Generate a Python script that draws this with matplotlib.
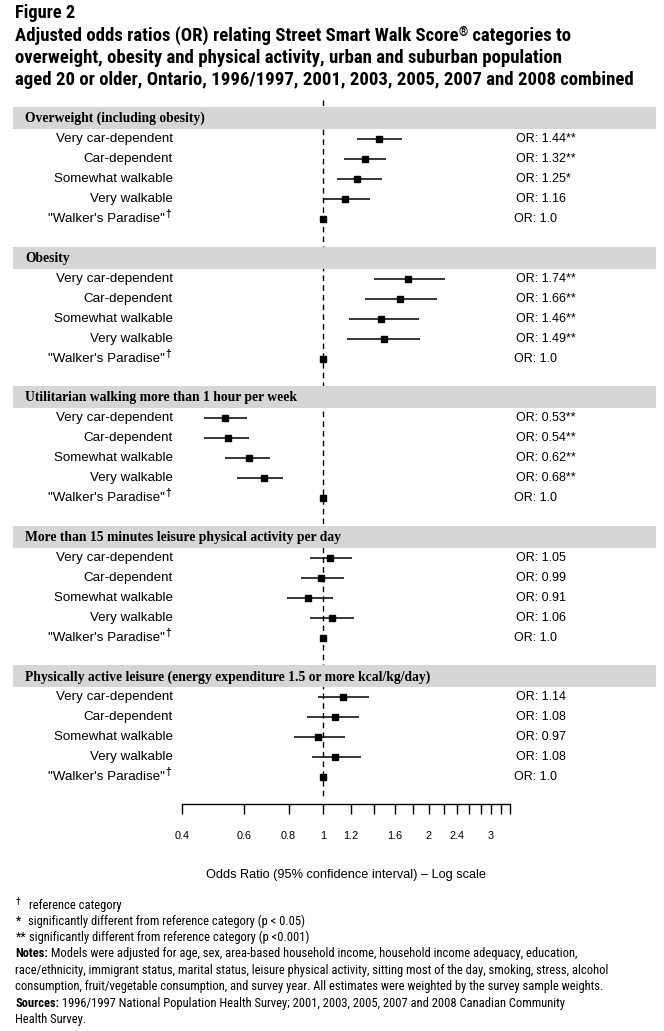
import matplotlib
matplotlib.use("Agg")
import matplotlib.pyplot as plt
from matplotlib import font_manager as fm
from matplotlib.patches import Rectangle
import numpy as np

# ---------------- data ----------------
categories = ["Very car-dependent", "Car-dependent", "Somewhat walkable",
              "Very walkable", "\"Walker's Paradise\""]
outcomes = ["Overweight (including obesity)",
            "Obesity",
            "Utilitarian walking more than 1 hour per week",
            "More than 15 minutes leisure physical activity per day",
            "Physically active leisure (energy expenditure 1.5 or more kcal/kg/day)"]

overweight_or = [1.44, 1.32, 1.25, 1.16, 1.0]
overweight_lo = [1.25, 1.15, 1.10, 1.00, 1.0]
overweight_hi = [1.68, 1.51, 1.47, 1.36, 1.0]
overweight_sig = ["**", "**", "*", "", ""]

obesity_or = [1.74, 1.66, 1.46, 1.49, 1.0]
obesity_lo = [1.40, 1.32, 1.19, 1.17, 1.0]
obesity_hi = [2.22, 2.11, 1.88, 1.89, 1.0]
obesity_sig = ["**", "**", "**", "**", ""]

walking_or = [0.53, 0.54, 0.62, 0.68, 1.0]
walking_lo = [0.46, 0.46, 0.53, 0.57, 1.0]
walking_hi = [0.61, 0.62, 0.71, 0.77, 1.0]
walking_sig = ["**", "**", "**", "**", ""]

leisure15_or = [1.05, 0.99, 0.91, 1.06, 1.0]
leisure15_lo = [0.92, 0.87, 0.79, 0.92, 1.0]
leisure15_hi = [1.21, 1.15, 1.07, 1.23, 1.0]
leisure15_sig = ["", "", "", "", ""]

active_or = [1.14, 1.08, 0.97, 1.08, 1.0]
active_lo = [0.97, 0.90, 0.83, 0.93, 1.0]
active_hi = [1.35, 1.27, 1.16, 1.28, 1.0]
active_sig = ["", "", "", "", ""]

tick_values = [0.4, 0.6, 0.8, 1.0, 1.2, 1.4, 1.6, 1.8, 2.0, 2.2, 2.4, 2.6, 2.8, 3.0, 3.2, 3.4]
tick_labels = ["0.4", "0.6", "0.8", "1", "1.2", "", "1.6", "", "2", "", "2.4", "", "", "3", "", ""]

panels = [
    (overweight_or, overweight_lo, overweight_hi, overweight_sig),
    (obesity_or, obesity_lo, obesity_hi, obesity_sig),
    (walking_or, walking_lo, walking_hi, walking_sig),
    (leisure15_or, leisure15_lo, leisure15_hi, leisure15_sig),
    (active_or, active_lo, active_hi, active_sig),
]

# ---------------- fonts ----------------
installed = {f.name for f in fm.fontManager.ttflist}
def pick(*names):
    for n in names:
        if n in installed:
            return n
    return "DejaVu Sans"
NARROW = pick("Liberation Sans Narrow", "Arial Narrow", "Roboto Condensed", "Liberation Sans")
SANS = pick("Liberation Sans", "Arial", "DejaVu Sans")
SERIF = pick("Liberation Serif", "DejaVu Serif")

W, H = 664, 1031
DPI = 100
fig = plt.figure(figsize=(W / DPI, H / DPI), dpi=DPI)
fig.patch.set_facecolor("white")

# forest axes: x log-scale OR, y in pixel rows
x_left_px, x_right_px = 182.3, 510.3
y_top_px, y_axis_px = 100.0, 804.0
ax = fig.add_axes([x_left_px / W, 1 - y_axis_px / H,
                   (x_right_px - x_left_px) / W, (y_axis_px - y_top_px) / H])
ax.set_facecolor("none")
ax.set_xscale("log")
ax.set_xlim(tick_values[0], tick_values[-1])
ax.set_ylim(y_axis_px, y_top_px)
for s in ["top", "left", "right"]:
    ax.spines[s].set_visible(False)
ax.spines["bottom"].set_linewidth(1.0)
ax.set_yticks([])
ax.xaxis.set_minor_locator(matplotlib.ticker.NullLocator())
ax.set_xticks(tick_values)
ax.set_xticklabels(tick_labels, fontfamily=SANS, fontsize=7.8)
ax.tick_params(axis="x", direction="out", length=7.5, width=1.0, pad=12)
ax.set_xlabel("Odds Ratio (95% confidence interval) \u2013 Log scale",
              fontfamily=SANS, fontsize=9.2, labelpad=20)

ax.plot([1, 1], [y_top_px, 800], color="black", lw=1.0, ls=(0, (4, 3)), zorder=1)

# overlay axes in pixel coords
ov = fig.add_axes([0, 0, 1, 1])
ov.set_xlim(0, W)
ov.set_ylim(H, 0)
ov.axis("off")
ov.set_facecolor("none")

panel_step = 139.6
first_top = 107.0
renderer = fig.canvas.get_renderer()

def runs(x, y, parts, va="baseline"):
    for s, kw, dy in parts:
        t = ov.text(x, y + dy, s, va=va, ha="left", **kw)
        x += t.get_window_extent(renderer).width
    return x

for p, (name, (orv, lo, hi, sig)) in enumerate(zip(outcomes, panels)):
    top = first_top + panel_step * p
    ov.add_patch(Rectangle((13, top), 643, 22, facecolor="#d6d6d4", edgecolor="none", zorder=3))
    ov.text(25, top + 11.5, name, fontfamily=SERIF, fontweight="bold", fontsize=9.8,
            va="center", ha="left", zorder=4)
    for i, cat in enumerate(categories):
        yr = top + 32 + 20 * i
        ref = (i == len(categories) - 1)
        ax.plot([lo[i], hi[i]], [yr, yr], color="black", lw=1.1, solid_capstyle="butt", zorder=2)
        ax.plot([orv[i]], [yr], marker="s", ms=4.4, color="black", zorder=3, clip_on=False)
        if ref:
            ov.text(165, yr, cat, fontfamily=SANS, fontsize=9.6, ha="right", va="center")
            ov.text(165.5, yr - 5, "\u2020", fontfamily=SANS, fontsize=7.5, ha="left", va="center",
                    fontweight="bold")
            ov.text(514, yr, f"OR: {orv[i]:.1f}", fontfamily=SANS, fontsize=9, ha="left", va="center")
        else:
            ov.text(173, yr, cat, fontfamily=SANS, fontsize=9.6, ha="right", va="center")
            ov.text(516, yr, f"OR: {orv[i]:.2f}{sig[i]}", fontfamily=SANS, fontsize=9,
                    ha="left", va="center")

# ---------------- title ----------------
tb = dict(fontfamily=NARROW, fontweight="bold", fontsize=13.5)
ov.text(15, 18, "Figure 2", fontfamily=NARROW, fontweight="bold", fontsize=13.2, va="baseline")
runs(15, 41, [("Adjusted odds ratios (OR) relating Street Smart Walk Score", tb, 0),
              ("\u00ae", dict(fontfamily=NARROW, fontweight="bold", fontsize=8.5), -5),
              (" categories to", tb, 0)])
ov.text(15, 63, "overweight, obesity and physical activity, urban and suburban population", va="baseline", **tb)
ov.text(15, 85, "aged 20 or older, Ontario, 1996/1997, 2001, 2003, 2005, 2007 and 2008 combined", va="baseline", **tb)

# ---------------- footnotes ----------------
fn = dict(fontfamily=NARROW, fontsize=9)
fb = dict(fontfamily=NARROW, fontsize=9, fontweight="bold")
ov.text(16, 905, "\u2020", fontfamily=NARROW, fontsize=7, va="baseline")
ov.text(29, 909, "reference category", va="baseline", **fn)
ov.text(16, 925, "*", va="baseline", **fn)
ov.text(28, 925, "significantly different from reference category (p < 0.05)", va="baseline", **fn)
ov.text(16, 941, "**", va="baseline", **fn)
ov.text(29, 941, "significantly different from reference category (p <0.001)", va="baseline", **fn)
runs(15, 957, [("Notes:", fb, 0),
               (" Models were adjusted for age, sex, area-based household income, household income adequacy, education,", fn, 0)])
ov.text(15, 974, "race/ethnicity, immigrant status, marital status, leisure physical activity, sitting most of the day, smoking, stress, alcohol", va="baseline", **fn)
ov.text(15, 990, "consumption, fruit/vegetable consumption, and survey year. All estimates were weighted by the survey sample weights.", va="baseline", **fn)
runs(15, 1007, [("Sources:", fb, 0),
                (" 1996/1997 National Population Health Survey; 2001, 2003, 2005, 2007 and 2008 Canadian Community", fn, 0)])
ov.text(15, 1023, "Health Survey.", va="baseline", **fn)

fig.savefig("out.png", dpi=DPI, facecolor="white")
